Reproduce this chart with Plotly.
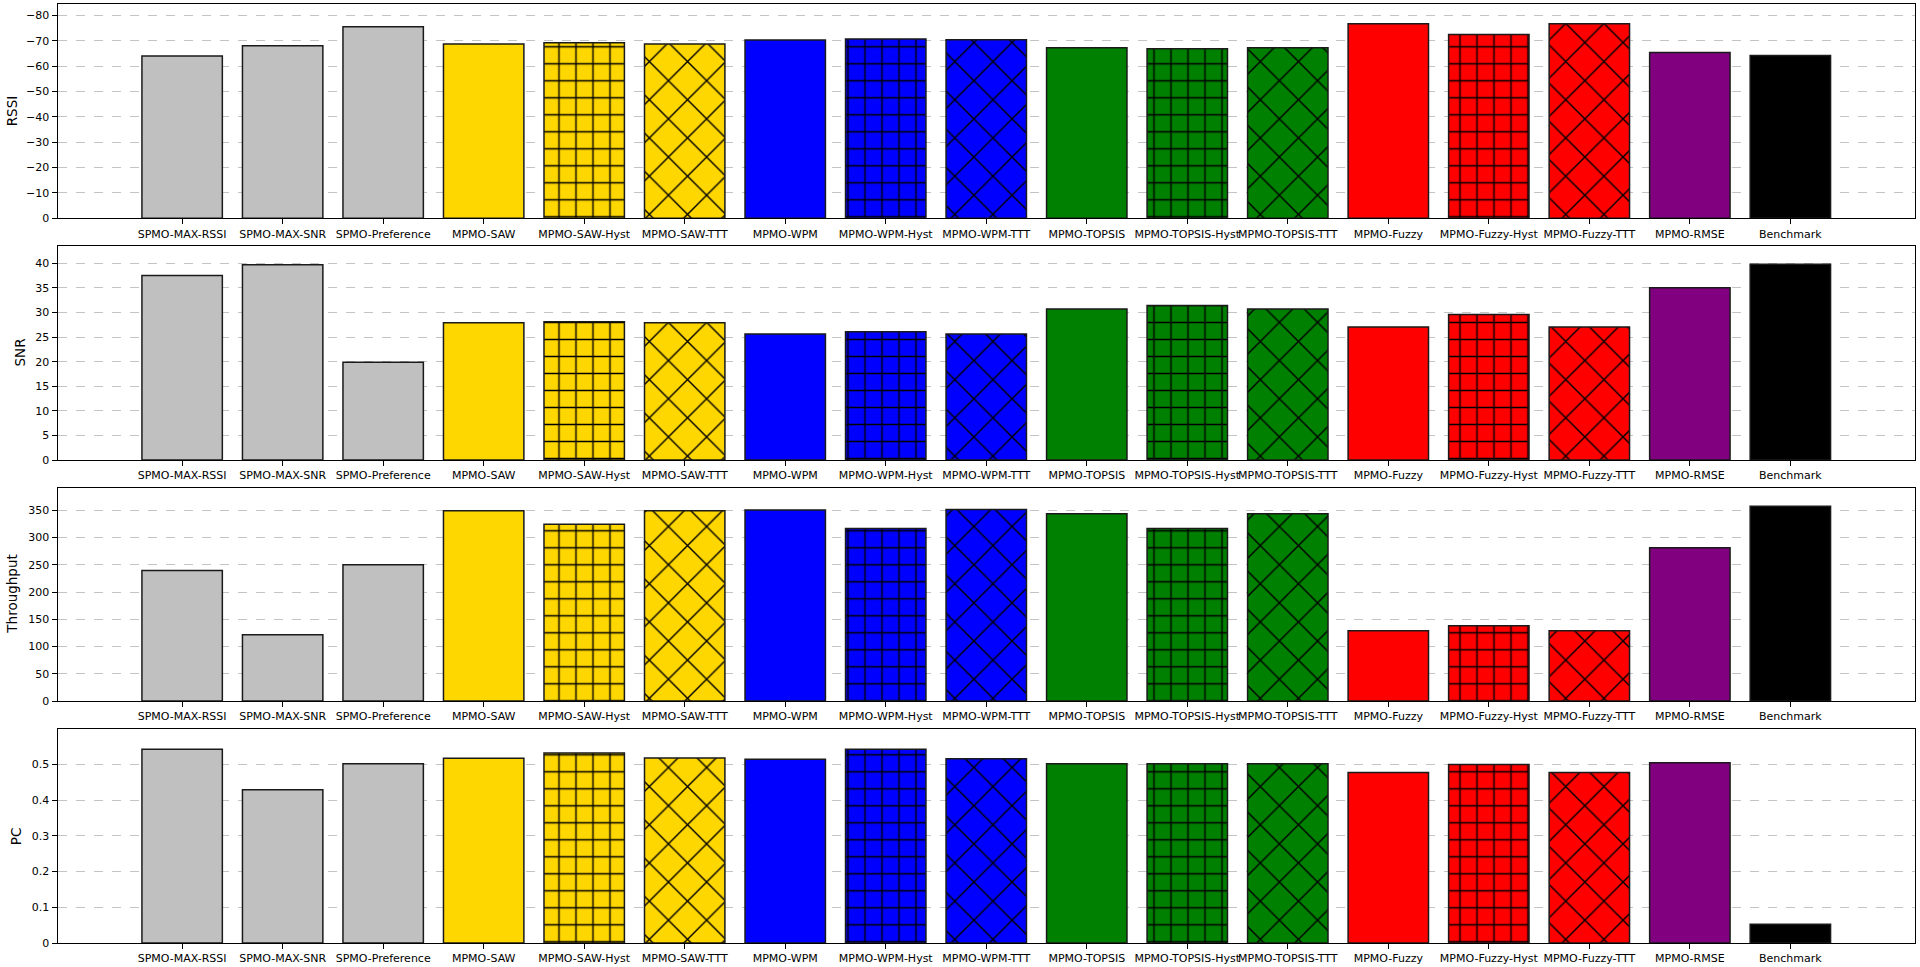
import plotly.graph_objects as go

categories = ["SPMO-MAX-RSSI", "SPMO-MAX-SNR", "SPMO-Preference",
              "MPMO-SAW", "MPMO-SAW-Hyst", "MPMO-SAW-TTT",
              "MPMO-WPM", "MPMO-WPM-Hyst", "MPMO-WPM-TTT",
              "MPMO-TOPSIS", "MPMO-TOPSIS-Hyst", "MPMO-TOPSIS-TTT",
              "MPMO-Fuzzy", "MPMO-Fuzzy-Hyst", "MPMO-Fuzzy-TTT",
              "MPMO-RMSE", "Benchmark"]

rssi = [-64.0, -68.0, -75.5, -68.7, -69.2, -68.7, -70.3, -70.7, -70.4,
        -67.2, -66.8, -67.2, -76.7, -72.4, -76.7, -65.3, -64.2]
snr = [37.5, 39.7, 19.9, 27.9, 28.1, 27.9, 25.6, 26.1, 25.6,
       30.7, 31.4, 30.7, 27.05, 29.6, 27.05, 35.05, 39.8]
throughput = [239.3, 121.8, 250.3, 349.4, 324.6, 349.4, 350.7, 316.4, 351.3,
              343.9, 316.4, 343.9, 129.1, 138.3, 129.1, 281.5, 357.4]
pc = [0.5424, 0.4287, 0.5014, 0.5172, 0.5315, 0.5178, 0.5144, 0.5424, 0.5154,
      0.5014, 0.5014, 0.5014, 0.4772, 0.4995, 0.4772, 0.5042, 0.0522]

colors = ["#c0c0c0"] * 3 + ["#ffd700"] * 3 + ["#0000ff"] * 3 + ["#008000"] * 3 + \
         ["#ff0000"] * 3 + ["#800080", "#000000"]
hatches = ["", "", ""] + ["", "+", "x"] * 4 + ["", ""]

panels = [("RSSI", rssi, [0, -84.33], list(range(0, -81, -10))),
          ("SNR", snr, [0, 43.52], list(range(0, 41, 5))),
          ("Throughput", throughput, [0, 390.4], list(range(0, 351, 50))),
          ("PC", pc, [0, 0.598], [0, 0.1, 0.2, 0.3, 0.4, 0.5])]

H = 967.0
W = 1920.0
pix = [(4.3, 218.3), (246.0, 460.0), (488.3, 701.0), (729.3, 943.0)]
xdom = [57.5 / W, 1915.0 / W]

fig = go.Figure()

for i, (name, vals, rng, tv) in enumerate(panels):
    k = "" if i == 0 else str(i + 1)
    for j, cat in enumerate(categories):
        h = hatches[j]
        if h == "+":
            pat = dict(shape="+", fillmode="overlay", fgcolor="#000000",
                       fgopacity=1, size=17, solidity=0.16)
        elif h == "x":
            pat = dict(shape="x", fillmode="overlay", fgcolor="#000000",
                       fgopacity=1, size=27, solidity=0.1)
        else:
            pat = dict(shape="")
        fig.add_trace(go.Bar(
            x=[cat], y=[vals[j]], xaxis="x" + k, yaxis="y" + k,
            width=0.8,
            marker=dict(color=colors[j],
                        line=dict(color="#1a1a1a", width=1.5),
                        pattern=pat),
            showlegend=False, hoverinfo="x+y"))
    top, bot = pix[i]
    fig.layout["xaxis" + k] = dict(
        domain=xdom, anchor="y" + k, type="category",
        categoryorder="array", categoryarray=categories,
        range=[-1.24, 17.24], tickmode="array", tickvals=categories,
        ticktext=categories, tickangle=0, ticks="outside", ticklen=5,
        tickcolor="black", tickfont=dict(family="DejaVu Sans", size=11, color="black"),
        showline=True, linecolor="black", linewidth=1, mirror=True,
        showgrid=False, zeroline=False, automargin=False)
    fig.layout["yaxis" + k] = dict(
        domain=[1 - bot / H, 1 - top / H], anchor="x" + k,
        range=rng, tickmode="array", tickvals=tv, ticks="outside", ticklen=5,
        tickcolor="black", tickfont=dict(family="DejaVu Sans", size=11, color="black"),
        showline=True, linecolor="black", linewidth=1, mirror=True,
        showgrid=True, gridcolor="#c4c4c4", griddash="dash", gridwidth=1,
        zeroline=False, automargin=False)

label_x = [12, 19.5, 12, 16]
for i, (name, vals, rng, tv) in enumerate(panels):
    top, bot = pix[i]
    fig.add_annotation(text=name, textangle=-90, xref="paper", yref="paper",
                       x=label_x[i] / W, y=1 - (top + bot) / 2 / H,
                       showarrow=False, xanchor="center", yanchor="middle",
                       font=dict(family="DejaVu Sans", size=13.5, color="black"))

fig.update_layout(width=1920, height=967, margin=dict(l=0, r=0, t=0, b=0),
                  plot_bgcolor="white", paper_bgcolor="white",
                  barmode="overlay", bargap=0.2)

fig.write_html("out.html", config={"displayModeBar": False},
               post_script="document.body.style.margin='0';"
                           "document.body.style.overflow='hidden';")
